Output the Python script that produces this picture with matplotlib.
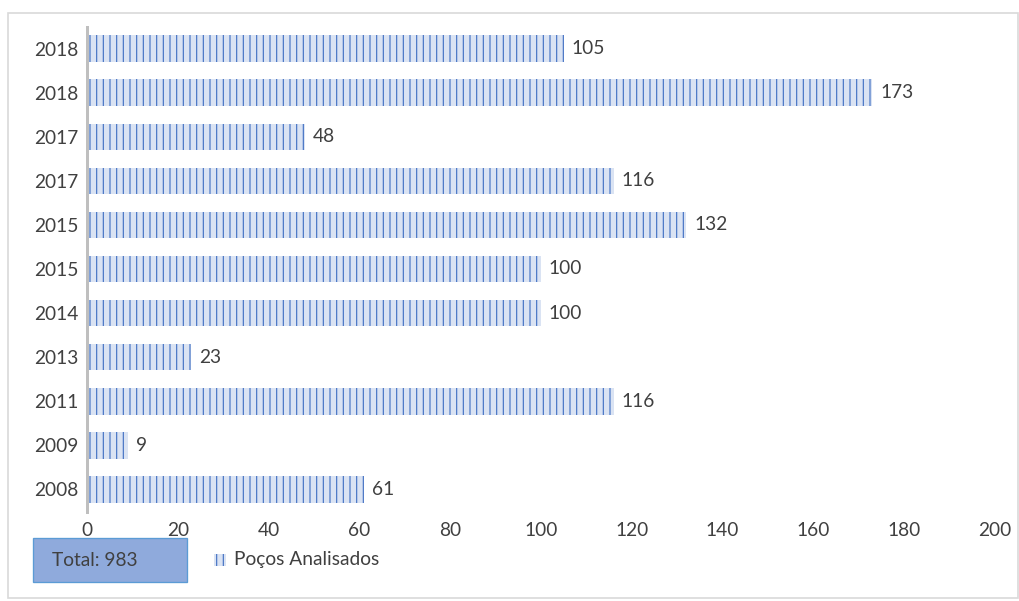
import matplotlib.pyplot as plt
from matplotlib.patches import Rectangle

anos = ["2018", "2018", "2017", "2017", "2015", "2015", "2014", "2013", "2011", "2009", "2008"]
pocos = [105, 173, 48, 116, 132, 100, 100, 23, 116, 9, 61]
total_texto = "Total: 983"
legenda = "Poços Analisados"

plt.rcParams['font.family'] = ['Lato', 'DejaVu Sans']
plt.rcParams['hatch.color'] = '#4472C4'
plt.rcParams['hatch.linewidth'] = 0.7

DPI = 120
fig = plt.figure(figsize=(1019 / DPI, 601 / DPI), dpi=DPI)
W, H = 1019, 601
FS = 11.5

# borda do gráfico
fig.patches.append(Rectangle((8 / W, 1 - 598 / H), 1010 / W, 585 / H,
                             transform=fig.transFigure, fill=False,
                             edgecolor='#D9D9D9', linewidth=1.0))

ax = fig.add_axes([87 / W, 1 - 511.5 / H, 908 / W, 485 / H])

n = len(pocos)
pos = list(range(n))[::-1]
ax.barh(pos, pocos, height=0.6, color='#DAE3F3', edgecolor='#4472C4',
        linewidth=0, hatch='|||')

for p, v in zip(pos, pocos):
    ax.text(v + 1.7, p, str(v), va='center', ha='left', fontsize=FS, color='#404040')

ax.set_xlim(0, 200)
ax.set_ylim(-0.5, n - 0.5)
ax.set_yticks(pos)
ax.set_yticklabels(anos)
ax.set_xticks(range(0, 201, 20))
ax.tick_params(axis='both', length=0, labelsize=FS, labelcolor='#404040')
ax.tick_params(axis='y', pad=5)
ax.tick_params(axis='x', pad=6)

for s in ['top', 'right', 'bottom']:
    ax.spines[s].set_visible(False)
ax.spines['left'].set_color('#BFBFBF')
ax.spines['left'].set_linewidth(1.8)

# caixa do total
fig.patches.append(Rectangle((33 / W, 1 - 582 / H), 154 / W, 44 / H,
                             transform=fig.transFigure, facecolor='#8FAADC',
                             edgecolor='#5B9BD5', linewidth=0.8))
fig.text(95 / W, 1 - 560 / H, total_texto, ha='center', va='center',
         fontsize=FS, color='#404040')

# legenda
fig.patches.append(Rectangle((214 / W, 1 - 566 / H), 12 / W, 12 / H,
                             transform=fig.transFigure, facecolor='#DAE3F3',
                             edgecolor='#4472C4', linewidth=0, hatch='|||'))
fig.text(234 / W, 1 - 560 / H, legenda, ha='left', va='center',
         fontsize=FS, color='#404040')

fig.savefig('out.png', dpi=DPI)
